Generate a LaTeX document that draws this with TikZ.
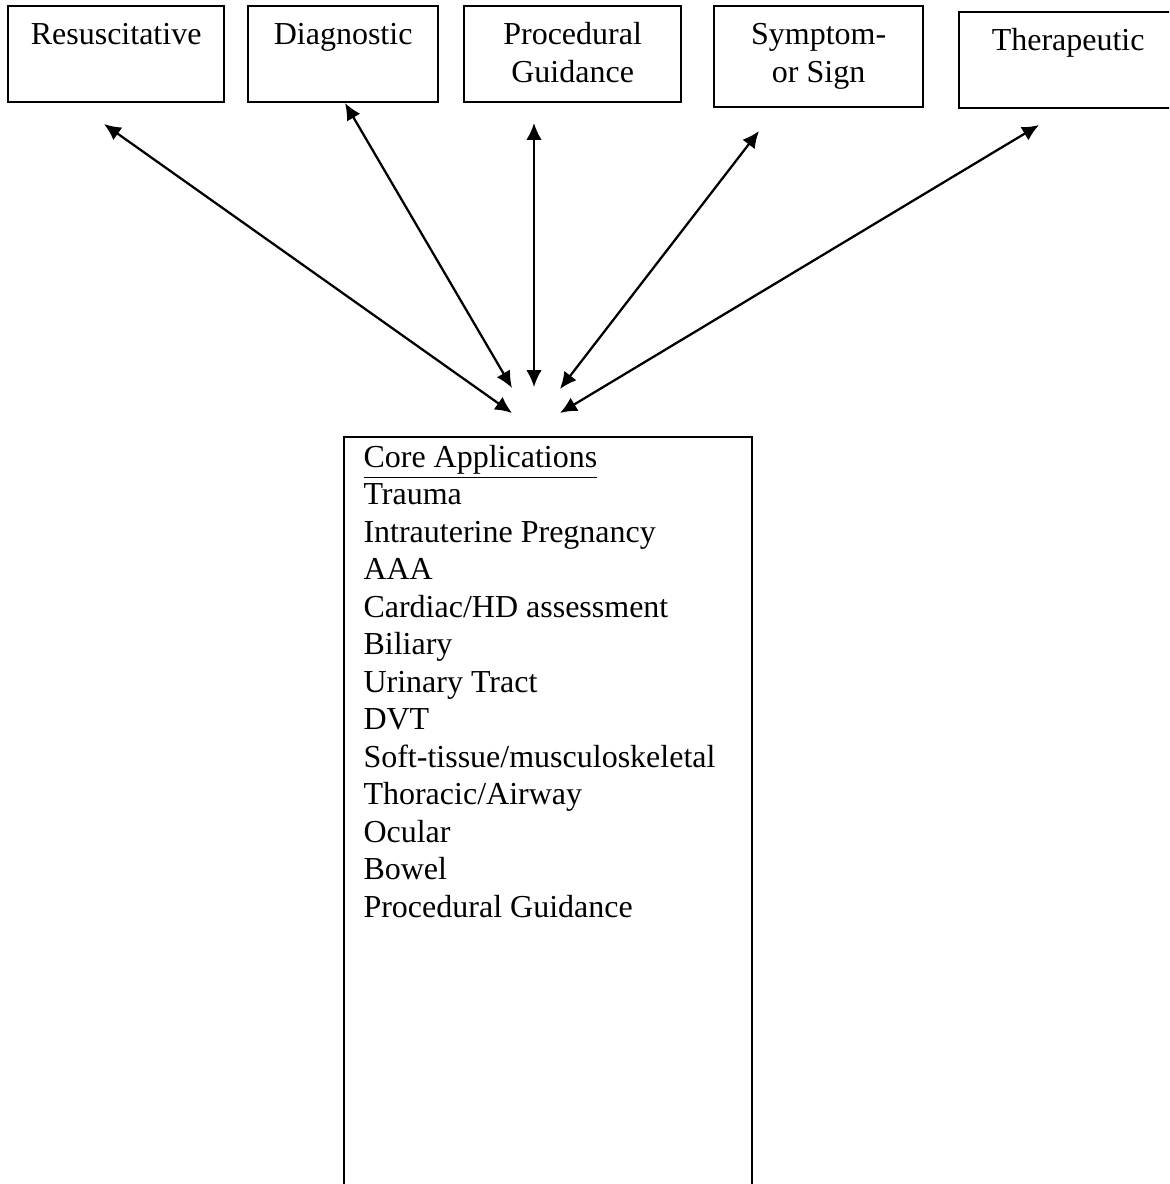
\documentclass[tikz,border=0pt]{standalone}
\usepackage{fontspec}
\setmainfont{Liberation Serif}
\usetikzlibrary{arrows.meta,calc}
\begin{document}
\begin{tikzpicture}[x=0.375pt,y=-0.375pt,
  box/.style={draw, line width=0.85pt, anchor=north west, inner sep=0pt},
  lbl/.style={font=\fontsize{12}{13.8}\selectfont, inner sep=0pt, anchor=base},
  dbl/.style={line width=0.85pt, {Latex[length=6.3pt,width=5.8pt]}-{Latex[length=6.3pt,width=5.8pt]}}]
\useasboundingbox (0,0) rectangle (1169,1184);
\clip (0,0) rectangle (1169,1184);
% top boxes
\node[box, minimum width=81pt, minimum height=36pt] (b1) at (7,5) {};
\node[box, minimum width=71.25pt, minimum height=36pt] (b2) at (247,5) {};
\node[box, minimum width=81.375pt, minimum height=36pt] (b3) at (463,5) {};
\node[box, minimum width=78.375pt, minimum height=37.875pt] (b4) at (713,5) {};
\node[box, minimum width=81.75pt, minimum height=36pt] (b5) at (958,11) {};
% labels
\node[lbl] (t1) at ($(b1.north)+(0,40)$) {Resuscitative};
\node[lbl] (t2) at ($(b2.north)+(0,40)$) {Diagnostic};
\node[lbl] (t3a) at ($(b3.north)+(0,40)$) {Procedural};
\node[lbl] (t3b) at ($(b3.north)+(0,78)$) {Guidance};
\node[lbl] (t4a) at ($(b4.north)+(0,40)$) {Symptom-};
\node[lbl] (t4b) at ($(b4.north)+(0,78)$) {or Sign};
\node[lbl] (t5) at ($(b5.north)+(0,40)$) {Therapeutic};
% bottom box
\node[box, minimum width=153pt, minimum height=290pt] (core) at (343,436) {};
\node[font=\fontsize{12}{14.06}\selectfont, align=left, anchor=base west, inner sep=0pt] (list) at (363,917)
{\underline{Core Applications}\\Trauma\\Intrauterine Pregnancy\\AAA\\Cardiac/HD assessment\\Biliary\\Urinary Tract\\DVT\\Soft-tissue/musculoskeletal\\Thoracic/Airway\\Ocular\\Bowel\\Procedural Guidance};
% arrow end points
\coordinate (a1s) at (104,124); \coordinate (a1e) at (512,413);
\coordinate (a2s) at (345,103); \coordinate (a2e) at (512,388);
\coordinate (a3s) at (534,123); \coordinate (a3e) at (534,387);
\coordinate (a4s) at (759,131); \coordinate (a4e) at (560,389);
\coordinate (a5s) at (1039,125); \coordinate (a5e) at (560,413);
\draw[dbl] (a1s) -- (a1e);
\draw[dbl] (a2s) -- (a2e);
\draw[dbl] (a3s) -- (a3e);
\draw[dbl] (a4s) -- (a4e);
\draw[dbl] (a5s) -- (a5e);
\end{tikzpicture}
\end{document}
